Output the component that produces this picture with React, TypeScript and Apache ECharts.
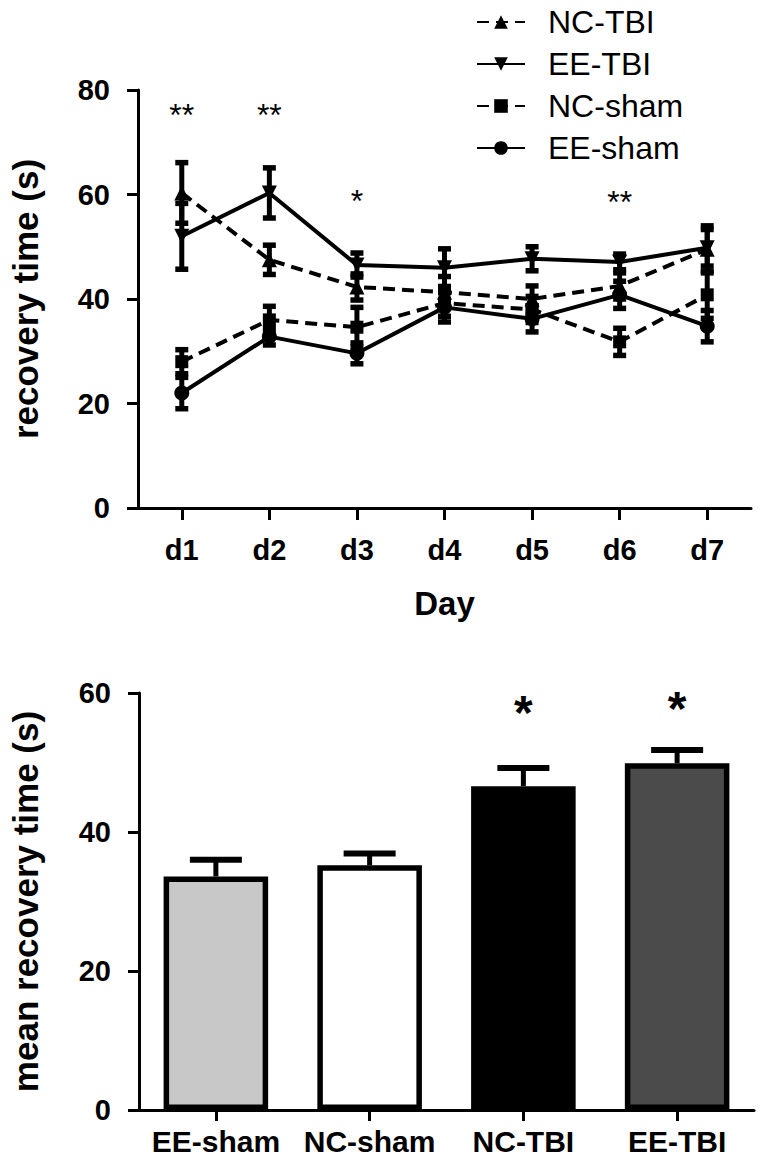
import React, { useEffect, useRef } from "react";
import * as echarts from "echarts";

// ---------- Top chart data (recovery time per day) ----------
const days = ["d1", "d2", "d3", "d4", "d5", "d6", "d7"];
const seriesNames = ["NC-TBI", "EE-TBI", "NC-sham", "EE-sham"];
const ncTbiMean = [60.3, 47.5, 42.3, 41.3, 40.0, 42.5, 49.5];
const ncTbiSem = [5.8, 2.8, 2.5, 3.0, 2.5, 2.5, 4.5];
const eeTbiMean = [52.0, 60.3, 46.5, 46.0, 47.7, 47.1, 49.8];
const eeTbiSem = [6.3, 4.8, 2.3, 3.6, 2.3, 1.5, 3.5];
const ncShamMean = [28.0, 36.0, 34.6, 39.2, 38.0, 31.8, 40.8];
const ncShamSem = [2.3, 2.6, 3.8, 2.5, 2.5, 2.6, 4.5];
const eeShamMean = [22.0, 32.8, 29.6, 38.4, 36.2, 40.8, 34.8];
const eeShamSem = [3.0, 1.6, 2.0, 2.8, 2.5, 2.6, 3.0];
const topYTicks = [0, 20, 40, 60, 80];
const topSigDays = ["d1", "d2", "d3", "d6"];
const topSigMarks = ["**", "**", "*", "**"];
const topSigHeights = [75.2, 75.2, 58.8, 58.6];

// ---------- Bottom chart data (mean recovery time) ----------
const groups = ["EE-sham", "NC-sham", "NC-TBI", "EE-TBI"];
const groupMeans = [33.6, 35.2, 46.6, 49.9];
const groupSems = [2.4, 1.7, 2.6, 1.9];
const bottomYTicks = [0, 20, 40, 60];
const bottomSigGroups = ["NC-TBI", "EE-TBI"];
const bottomSigMarks = ["*", "*"];
const bottomSigHeights = [57.2, 57.7];

// styles (kept apart from data)
const barColors = ["#c8c8c8", "#ffffff", "#000000", "#4b4b4b"];
const seriesSymbols = ["triangle", "triangle", "rect", "circle"];
const seriesRotate = [0, 180, 0, 0];
const seriesDashed = [true, false, true, false];

const FONT = "Liberation Sans, Arial, sans-serif";

export default function App() {
  const ref = useRef<HTMLDivElement>(null);

  useEffect(() => {
    if (!ref.current) return;
    const chart = echarts.init(ref.current, undefined, { renderer: "svg" });

    const means = [ncTbiMean, eeTbiMean, ncShamMean, eeShamMean];
    const sems = [ncTbiSem, eeTbiSem, ncShamSem, eeShamSem];

    const axisLine = { show: true, lineStyle: { color: "#000", width: 3 } };
    const axisTick = { show: true, length: 11, lineStyle: { color: "#000", width: 3 } };
    const boldLabel = (size: number, margin: number) => ({
      color: "#000",
      fontSize: size,
      fontWeight: "bold" as const,
      fontFamily: FONT,
      margin,
      interval: 0,
    });

    const errorRender = (capHalf: number, capW: number, lineW: number, upOnly: boolean) =>
      (params: any, api: any) => {
        const x = api.value(0);
        const lo = api.value(1);
        const hi = api.value(2);
        const pHi = api.coord([x, hi]);
        const pLo = api.coord([x, lo]);
        const children: any[] = [
          {
            type: "line",
            shape: { x1: pHi[0], y1: pHi[1], x2: pLo[0], y2: pLo[1] },
            style: { stroke: "#000", lineWidth: lineW },
          },
          {
            type: "line",
            shape: { x1: pHi[0] - capHalf, y1: pHi[1], x2: pHi[0] + capHalf, y2: pHi[1] },
            style: { stroke: "#000", lineWidth: capW },
          },
        ];
        if (!upOnly) {
          children.push({
            type: "line",
            shape: { x1: pLo[0] - capHalf, y1: pLo[1], x2: pLo[0] + capHalf, y2: pLo[1] },
            style: { stroke: "#000", lineWidth: capW },
          });
        }
        return { type: "group", children };
      };

    const textRender = (size: number, weight: string) => (params: any, api: any) => {
      const p = api.coord([api.value(0), api.value(1)]);
      return {
        type: "text",
        x: p[0],
        y: p[1],
        style: {
          text: api.value(2),
          fill: "#000",
          fontSize: size,
          fontWeight: weight,
          fontFamily: FONT,
          align: "center",
          verticalAlign: "middle",
        },
      };
    };

    const series: any[] = [];
    seriesNames.forEach((name, i) => {
      series.push({
        type: "custom",
        name: "err-" + name,
        xAxisIndex: 0,
        yAxisIndex: 0,
        renderItem: errorRender(6.5, 5.5, 5, false),
        data: days.map((d, k) => [k, means[i][k] - sems[i][k], means[i][k] + sems[i][k]]),
        z: 2,
      });
    });
    seriesNames.forEach((name, i) => {
      series.push({
        type: "line",
        name,
        xAxisIndex: 0,
        yAxisIndex: 0,
        data: means[i],
        symbol: seriesSymbols[i],
        symbolRotate: seriesRotate[i],
        symbolSize: i === 2 ? 13 : 15,
        itemStyle: { color: "#000" },
        lineStyle: { color: "#000", width: 4, type: seriesDashed[i] ? [12, 7] : "solid" },
        z: 3,
      });
    });
    series.push({
      type: "custom",
      name: "sig-top",
      xAxisIndex: 0,
      yAxisIndex: 0,
      renderItem: textRender(32, "normal"),
      data: topSigDays.map((d, k) => [days.indexOf(d), topSigHeights[k], topSigMarks[k]]),
      z: 4,
    });

    series.push({
      type: "bar",
      name: "mean",
      xAxisIndex: 1,
      yAxisIndex: 1,
      barWidth: "68%",
      data: groupMeans.map((v, k) => ({
        value: v,
        itemStyle: { color: barColors[k], borderColor: "#000", borderWidth: 5.5 },
      })),
      z: 2,
    });
    series.push({
      type: "custom",
      name: "err-bottom",
      xAxisIndex: 1,
      yAxisIndex: 1,
      renderItem: errorRender(26, 6, 5, true),
      data: groups.map((g, k) => [k, groupMeans[k], groupMeans[k] + groupSems[k]]),
      z: 1,
    });
    series.push({
      type: "custom",
      name: "sig-bottom",
      xAxisIndex: 1,
      yAxisIndex: 1,
      renderItem: textRender(48, "bold"),
      data: bottomSigGroups.map((g, k) => [groups.indexOf(g), bottomSigHeights[k], bottomSigMarks[k]]),
      z: 4,
    });

    chart.setOption({
      animation: false,
      backgroundColor: "#fff",
      legend: {
        data: seriesNames,
        orient: "vertical",
        left: 471,
        top: 1,
        itemWidth: 48,
        itemHeight: 17,
        itemGap: 10,
        textStyle: {
          color: "#000",
          fontSize: 32,
          lineHeight: 32,
          fontFamily: FONT,
          padding: [0, 0, 0, 18],
        },
        selectedMode: false,
      },
      grid: [
        { left: 127, top: 90, right: 9, bottom: 657, containLabel: false },
        { left: 128, top: 693, right: 6, bottom: 55, containLabel: false },
      ],
      xAxis: [
        {
          gridIndex: 0,
          type: "category",
          data: days,
          axisLine,
          axisTick: { ...axisTick, length: 12, alignWithLabel: true },
          axisLabel: boldLabel(29, 27),
          name: "Day",
          nameLocation: "middle",
          nameGap: 79,
          nameTextStyle: { color: "#000", fontSize: 33, fontWeight: "bold", fontFamily: FONT },
          splitLine: { show: false },
        },
        {
          gridIndex: 1,
          type: "category",
          data: groups,
          axisLine,
          axisTick: { ...axisTick, length: 11, alignWithLabel: true },
          axisLabel: boldLabel(30, 16),
          splitLine: { show: false },
        },
      ],
      yAxis: [
        {
          gridIndex: 0,
          type: "value",
          min: topYTicks[0],
          max: topYTicks[topYTicks.length - 1],
          interval: 20,
          axisLine,
          axisTick,
          axisLabel: boldLabel(29, 28),
          splitLine: { show: false },
          name: "recovery time (s)",
          nameLocation: "middle",
          nameRotate: 90,
          nameGap: 95,
          nameTextStyle: { color: "#000", fontSize: 35, fontWeight: "bold", fontFamily: FONT },
        },
        {
          gridIndex: 1,
          type: "value",
          min: bottomYTicks[0],
          max: bottomYTicks[bottomYTicks.length - 1],
          interval: 20,
          axisLine,
          axisTick,
          axisLabel: boldLabel(29, 28),
          splitLine: { show: false },
          name: "mean recovery time (s)",
          nameLocation: "middle",
          nameRotate: 90,
          nameGap: 96,
          nameTextStyle: { color: "#000", fontSize: 35, fontWeight: "bold", fontFamily: FONT },
        },
      ],
      series,
    });

    return () => chart.dispose();
  }, []);

  return (
    <div
      ref={ref}
      style={{ position: "absolute", left: 0, top: 0, width: 760, height: 1165, background: "#fff" }}
    />
  );
}
